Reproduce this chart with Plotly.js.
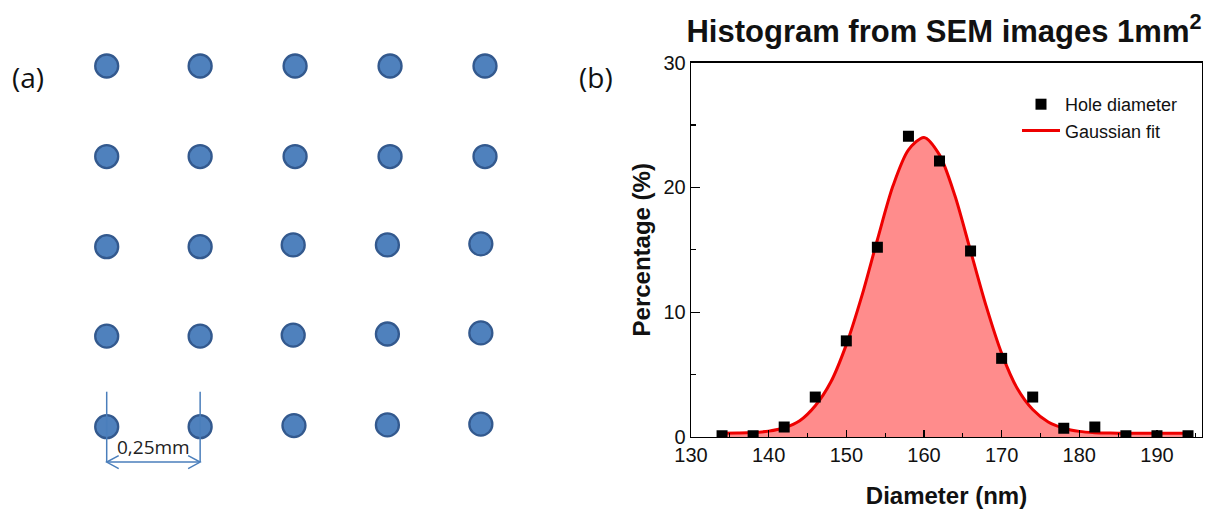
<!DOCTYPE html>
<html>
<head>
<meta charset="utf-8">
<script src="https://cdn.plot.ly/plotly-3.0.1.min.js"></script>
<style>html,body{margin:0;padding:0;background:#fff;}#chart{width:1222px;height:510px;}</style>
</head>
<body>
<div id="chart"></div>
<script>
// ---- Panel (b): histogram data ----
const diameterNm = [134, 138, 142, 146, 150, 154, 158, 162, 166, 170, 174, 178, 182, 186, 190, 194];
const percentage = [0.1, 0.1, 0.8, 3.2, 7.7, 15.2, 24.1, 22.1, 14.9, 6.3, 3.2, 0.7, 0.8, 0.1, 0.1, 0.1];

// Gaussian fit curve
const fitX = [134, 136, 138, 140, 142, 144, 146, 148, 150, 152, 154, 156, 158, 160, 162, 164, 166, 168, 170, 172, 174, 176, 178, 180, 182, 184, 186, 188, 190, 192, 194];
const fitY = [0.3, 0.32, 0.36, 0.47, 0.74, 1.3, 2.5, 4.4, 7.4, 11.3, 15.8, 20.1, 23.0, 24.0, 22.6, 19.3, 14.9, 10.5, 6.7, 3.9, 2.2, 1.2, 0.7, 0.45, 0.35, 0.32, 0.3, 0.3, 0.3, 0.3, 0.3];

const xTicks = [130, 140, 150, 160, 170, 180, 190];
const yTicks = [0, 10, 20, 30];

// ---- Panel (a): hole grid positions in mm ----
const holeX = [0, 0.247, 0.498, 0.749, 1.0,
               0, 0.247, 0.498, 0.749, 1.0,
               0, 0.247, 0.493, 0.742, 0.989,
               0, 0.247, 0.493, 0.742, 0.989,
               0, 0.247, 0.495, 0.742, 0.989];
const holeY = [1.0, 1.0, 1.0, 1.0, 1.0,
               0.749, 0.749, 0.749, 0.749, 0.749,
               0.499, 0.499, 0.504, 0.504, 0.507,
               0.251, 0.251, 0.254, 0.257, 0.260,
               0, 0, 0.003, 0.005, 0.007];
const pitchLabel = '0,25mm';

// ---- layout geometry ----
const W = 1222, H = 510;
const font = 'Liberation Sans, Arial, sans-serif';
const blue = '#4a7ebb';

// left panel scale (px per mm) for decoration sizes
const pxPerMmX = 378.3, pxPerMmY = 360.7;
const ax0 = holeX[0], ax1 = holeX[1];
const lineTop = 0.097, arrowY = -0.098;
const armX = 12 / pxPerMmX, armY = 6.5 / pxPerMmY;

const traces = [
  {
    x: fitX, y: fitY, type: 'scatter', mode: 'lines', showlegend: false,
    line: {color: 'rgba(0,0,0,0)', width: 0, shape: 'spline', smoothing: 0.8},
    fill: 'tozeroy', fillcolor: 'rgb(255,140,140)',
    xaxis: 'x', yaxis: 'y', hoverinfo: 'skip'
  },
  {
    x: fitX, y: fitY, type: 'scatter', mode: 'lines', name: 'Gaussian fit',
    line: {color: '#ee0000', width: 3, shape: 'spline', smoothing: 0.8},
    xaxis: 'x', yaxis: 'y', legendrank: 2
  },
  {
    x: diameterNm, y: percentage, type: 'scatter', mode: 'markers', name: 'Hole diameter',
    marker: {symbol: 'square', size: 11, color: '#000'},
    xaxis: 'x', yaxis: 'y', legendrank: 1, cliponaxis: true
  },
  {
    x: holeX, y: holeY, type: 'scatter', mode: 'markers', showlegend: false,
    marker: {symbol: 'circle', size: 23, color: '#4f81bd', line: {color: '#33598e', width: 2.3}},
    xaxis: 'x2', yaxis: 'y2', hoverinfo: 'skip'
  }
];

const shapes = [
  {type: 'line', xref: 'x2', yref: 'y2', x0: ax0, x1: ax0, y0: lineTop, y1: arrowY, line: {color: blue, width: 1.5}},
  {type: 'line', xref: 'x2', yref: 'y2', x0: ax1, x1: ax1, y0: lineTop, y1: arrowY, line: {color: blue, width: 1.5}},
  {type: 'line', xref: 'x2', yref: 'y2', x0: ax0, x1: ax1, y0: arrowY, y1: arrowY, line: {color: blue, width: 1.5}},
  {type: 'path', xref: 'x2', yref: 'y2',
   path: `M${ax0 + armX},${arrowY + armY} L${ax0},${arrowY} L${ax0 + armX},${arrowY - armY}`,
   line: {color: blue, width: 1.5}},
  {type: 'path', xref: 'x2', yref: 'y2',
   path: `M${ax1 - armX},${arrowY + armY} L${ax1},${arrowY} L${ax1 - armX},${arrowY - armY}`,
   line: {color: blue, width: 1.5}}
];

const annotations = [
  {text: '(a)', xref: 'paper', yref: 'paper', x: 28 / W, y: 1 - 77 / H, showarrow: false,
   xanchor: 'center', yanchor: 'middle', font: {family: 'Open Sans, sans-serif', size: 28, color: '#111'}},
  {text: '(b)', xref: 'paper', yref: 'paper', x: 596 / W, y: 1 - 77 / H, showarrow: false,
   xanchor: 'center', yanchor: 'middle', font: {family: 'Open Sans, sans-serif', size: 28, color: '#111'}},
  {text: pitchLabel, xref: 'x2', yref: 'y2', x: (ax0 + ax1) / 2, y: -0.055, showarrow: false,
   xanchor: 'center', yanchor: 'middle', font: {family: 'Open Sans, sans-serif', size: 19, color: '#222'}}
];

const layout = {
  width: W, height: H,
  margin: {l: 0, r: 0, t: 0, b: 0},
  paper_bgcolor: '#fff', plot_bgcolor: '#fff',
  font: {family: font, color: '#111'},
  title: {
    text: '<b>Histogram from SEM images 1mm<sup>2</sup></b>',
    font: {family: font, size: 31, color: '#111'},
    x: 944 / W, xanchor: 'center', y: 1 - 31 / H, yanchor: 'middle', xref: 'paper', yref: 'container'
  },
  showlegend: true,
  legend: {
    x: 1017 / W, y: 1 - 86 / H, xanchor: 'left', yanchor: 'top',
    bgcolor: 'rgba(0,0,0,0)', borderwidth: 0, itemwidth: 38,
    font: {family: font, size: 18, color: '#111'}, tracegroupgap: 0
  },
  xaxis: {
    domain: [691 / W, 1202 / W], anchor: 'y',
    range: [130, 195.8], tickvals: xTicks, ticktext: xTicks.map(String),
    ticks: 'inside', ticklen: 7, tickwidth: 1.3, tickcolor: '#000',
    minor: {dtick: 5, ticks: 'inside', ticklen: 4, tickwidth: 1.2, tickcolor: '#000'},
    showline: true, linecolor: '#000', linewidth: 1.3, mirror: true,
    showgrid: false, zeroline: false,
    tickfont: {family: font, size: 20, color: '#111'},
    title: {text: '<b>Diameter (nm)</b>', font: {family: font, size: 24, color: '#111'}, standoff: 22}
  },
  yaxis: {
    domain: [(H - 437) / H, (H - 62.5) / H], anchor: 'x',
    range: [0, 30], tickvals: yTicks, ticktext: yTicks.map(String),
    ticks: 'inside', ticklen: 9, tickwidth: 1.3, tickcolor: '#000',
    minor: {dtick: 5, ticks: 'inside', ticklen: 5, tickwidth: 1.2, tickcolor: '#000'},
    showline: true, linecolor: '#000', linewidth: 1.3, mirror: true,
    showgrid: false, zeroline: false,
    tickfont: {family: font, size: 20, color: '#111'},
    title: {text: '<b>Percentage (%)</b>', font: {family: font, size: 24, color: '#111'}, standoff: 6}
  },
  xaxis2: {
    domain: [0, 550 / W], anchor: 'y2',
    range: [-106.7 / pxPerMmX, (550 - 106.7) / pxPerMmX],
    visible: false, showgrid: false, zeroline: false, fixedrange: true
  },
  yaxis2: {
    domain: [0, 1], anchor: 'x2',
    range: [-(H - 426.7) / pxPerMmY, 426.7 / pxPerMmY],
    visible: false, showgrid: false, zeroline: false, fixedrange: true
  },
  shapes: shapes,
  annotations: annotations
};

Plotly.newPlot('chart', traces, layout, {displayModeBar: false, staticPlot: true});
</script>
</body>
</html>
